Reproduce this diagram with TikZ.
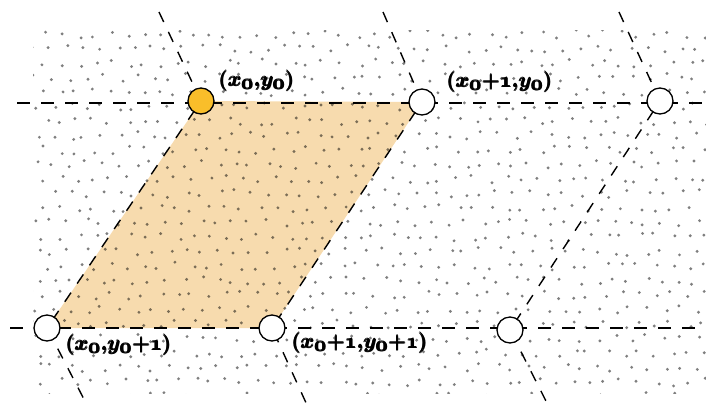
\documentclass[tikz,border=0pt]{standalone}
\usepackage{amsmath}
\definecolor{parafill}{HTML}{F7DBAE}
\definecolor{ptorange}{HTML}{F9BE2A}
\newcommand{\ozero}{{\textstyle\mathnormal{0}}}
\newcommand{\oone}{\mathnormal{1}}
\newcommand{\pls}{\mathord{+}}
\newcommand{\cma}{\mathord{,}}
\tikzset{
  dsh/.style={line width=1.4pt, dash pattern=on 11pt off 11pt},
  hdsh/.style={line width=1.4pt, dash pattern=on 13pt off 11pt},
  latpt/.style={circle, draw, line width=1.3pt, fill=white, minimum size=26pt, inner sep=0pt},
  lbl/.style={font=\fontsize{22.5}{26}\selectfont\boldmath, inner sep=0pt},
  dotmark/.style={fill=black, fill opacity=0.5}
}
\begin{document}
\begin{tikzpicture}[x=1pt,y=-1pt]
\useasboundingbox (0,0) rectangle (706,405);
% lattice points
\coordinate (P00) at (201,101);
\coordinate (P10) at (422,102);
\coordinate (P20) at (660,101);
\coordinate (P01) at (47,328);
\coordinate (P11) at (272,328);
\coordinate (P21) at (510,330);
% free ends
\coordinate (A0) at (159,12);
\coordinate (A3) at (87,405);
\coordinate (B0) at (383,12);
\coordinate (B3) at (307,405);
\coordinate (C0) at (619,12);
\coordinate (C3) at (548,405);
\coordinate (H0) at (17,103);
\coordinate (H1) at (706,103);
\coordinate (G0) at (10,328);
\coordinate (G1) at (706,328);
% parallelogram
\fill[parafill] (P00) -- (P10) -- (P11) -- (P01) -- cycle;
% dots
\begin{scope}
\clip (33,30) rectangle (706,393);
\pgfmathsetseed{7}
\foreach \i in {0,...,26}{
  \foreach \j in {0,...,44}{
    \pgfmathsetmacro\px{\j*16.5 + mod(\i,2)*8 + 5*rand + 28}
    \pgfmathsetmacro\py{\i*14.5 + 4*rand + 34}
    \fill[dotmark] (\px,\py) circle[radius=1.6pt];
  }
}
\end{scope}
% dashed lines
\draw[hdsh] (H0) -- (H1);
\draw[hdsh] (G0) -- (G1);
\draw[dsh] (A0) -- (P00) -- (P01) -- (A3);
\draw[dsh] (B0) -- (P10) -- (P11) -- (B3);
\draw[dsh] (C0) -- (P20) -- (P21) -- (C3);
% circles
\node[latpt, fill=ptorange] (p00) at (P00) {};
\node[latpt] (p10) at (P10) {};
\node[latpt] (p20) at (P20) {};
\node[latpt] (p01) at (P01) {};
\node[latpt] (p11) at (P11) {};
\node[latpt] (p21) at (P21) {};
% labels
\node[lbl] (l00) at (257,81) {$\pmb{(x_\ozero\cma y_\ozero)}$};
\node[lbl] (l10) at (500,82) {$\pmb{(x_\ozero\pls\oone\cma y_\ozero)}$};
\node[lbl] (l01) at (119,345) {$\pmb{(x_\ozero\cma y_\ozero\pls\oone)}$};
\node[lbl] (l11) at (360,343) {$\pmb{(x_\ozero\pls\oone\cma y_\ozero\pls\oone)}$};
\end{tikzpicture}
\end{document}
